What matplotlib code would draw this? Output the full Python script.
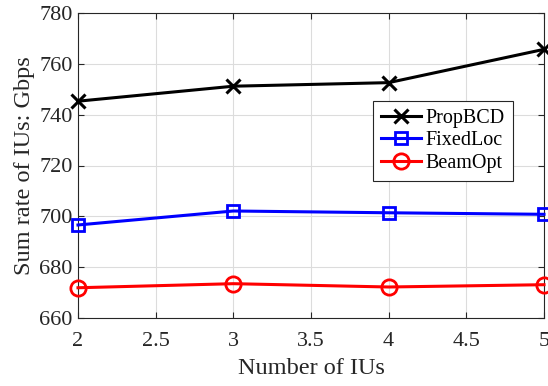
import matplotlib
matplotlib.use('Agg')
import matplotlib.pyplot as plt

num_ius = [2, 3, 4, 5]
prop_bcd = [745.3, 751.2, 752.6, 765.7]
fixed_loc = [696.6, 702.1, 701.4, 700.8]
beam_opt = [671.9, 673.5, 672.2, 673.1]

x_ticks = [2, 2.5, 3, 3.5, 4, 4.5, 5]
x_tick_labels = ['2', '2.5', '3', '3.5', '4', '4.5', '5']
y_ticks = [660, 680, 700, 720, 740, 760, 780]

plt.rcParams['font.family'] = ['Liberation Serif', 'DejaVu Serif']

fig = plt.figure(figsize=(5.48, 3.86), dpi=100)
ax = fig.add_axes([78 / 548, 68 / 386, 466 / 548, 305 / 386])

ax.plot(num_ius, prop_bcd, color='black', marker='x', markersize=10, markeredgewidth=2.2,
        linewidth=2.2, label='PropBCD', clip_on=False, zorder=3)
ax.plot(num_ius, fixed_loc, color='blue', marker='s', markersize=8.5, markerfacecolor='none',
        markeredgewidth=2, linewidth=2.2, label='FixedLoc', clip_on=False, zorder=3)
ax.plot(num_ius, beam_opt, color='red', marker='o', markersize=11, markerfacecolor='none',
        markeredgewidth=2, linewidth=2.2, label='BeamOpt', clip_on=False, zorder=3)

ax.set_xlim(2, 5)
ax.set_ylim(660, 780)
ax.set_xticks(x_ticks)
ax.set_xticklabels(x_tick_labels)
ax.set_yticks(y_ticks)

axis_color = '#262626'
for s in ax.spines.values():
    s.set_color(axis_color)
    s.set_linewidth(0.8)
ax.tick_params(direction='in', top=True, right=True, length=4, width=0.8,
               colors=axis_color, labelsize=16)
ax.tick_params(axis='x', pad=10)
ax.tick_params(axis='y', pad=4)
ax.grid(True, color='#dcdcdc', linewidth=0.8)
ax.set_axisbelow(True)

ax.set_xlabel('Number of IUs', fontsize=17.5, color=axis_color, labelpad=5)
ax.set_ylabel('Sum rate of IUs: Gbps', fontsize=17.5, color=axis_color, labelpad=3)

leg = ax.legend(loc='upper left', bbox_to_anchor=((373 - 78) / 466, (318 - 101) / 305),
                fontsize=14.5, frameon=True, fancybox=False, edgecolor=axis_color,
                framealpha=1, borderpad=0.4, handlelength=2.0, labelspacing=0.16,
                handletextpad=0.2, borderaxespad=0)
leg.get_frame().set_linewidth(0.8)

fig.savefig('out.png', dpi=100)
